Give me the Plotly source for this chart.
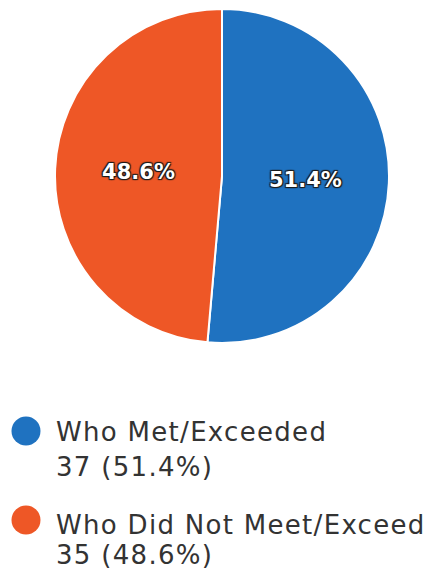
import plotly.graph_objects as go

labels = ["Who Met/Exceeded", "Who Did Not Meet/Exceed"]
counts = [37, 35]
colors = ["#1f72c0", "#ee5726"]

W, H = 440, 571
OFF = 8  # page body margin offset
cx, cy, r = 222 - OFF, 176 - OFF, 167

total = sum(counts)
pcts = [c / total * 100 for c in counts]

fig = go.Figure()
fig.add_trace(go.Pie(
    labels=labels,
    values=counts,
    sort=False,
    direction="clockwise",
    rotation=0,
    marker=dict(colors=colors, line=dict(color="white", width=2)),
    textinfo="percent",
    texttemplate="%{percent:.1%}",
    textposition="inside",
    insidetextorientation="horizontal",
    textfont=dict(family="DejaVu Sans", size=21, color="white", weight="bold",
                  shadow="1px 1px 1px #1a1a1a, -1px -1px 1px #1a1a1a, 1px -1px 1px #1a1a1a, -1px 1px 1px #1a1a1a"),
    showlegend=False,
    hoverinfo="label+value+percent",
    domain=dict(x=[(cx - r) / W, (cx + r) / W], y=[1 - (cy + r) / H, 1 - (cy - r) / H]),
))

# Custom legend (screen positions minus page offset)
circle_y = [431, 520]
line1_y = [432, 525]
line2_y = [467, 555]
d = 29
for i, (lab, c, p, col) in enumerate(zip(labels, counts, pcts, colors)):
    ycirc = circle_y[i] - OFF
    xc = 26 - OFF
    fig.add_shape(type="circle", xref="paper", yref="paper",
                  x0=(xc - d / 2) / W, x1=(xc + d / 2) / W,
                  y0=1 - (ycirc + d / 2) / H, y1=1 - (ycirc - d / 2) / H,
                  fillcolor=col, line=dict(width=0))
    for txt, yy in [(lab, line1_y[i]), (f"{c} ({p:.1f}%)", line2_y[i])]:
        fig.add_annotation(xref="paper", yref="paper", x=(57 - OFF - 2) / W, y=1 - (yy - OFF) / H,
                           xanchor="left", yanchor="middle", showarrow=False, borderpad=0,
                           text=f'<span style="letter-spacing:1.3px">{txt}</span>',
                           font=dict(family="DejaVu Sans", size=26, color="#333333"))

fig.update_layout(width=W, height=H, margin=dict(l=0, r=0, t=0, b=0),
                  paper_bgcolor="white", plot_bgcolor="white")
fig.write_html("out.html")
